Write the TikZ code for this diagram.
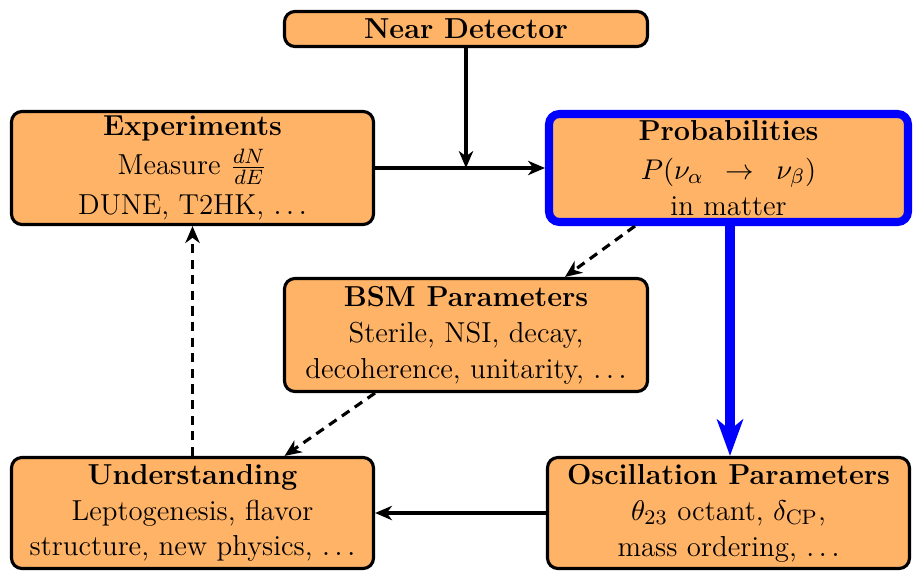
\documentclass[tikz,border=0pt]{standalone}
\usetikzlibrary{arrows.meta,calc}
\definecolor{boxfill}{HTML}{FFB366}
\begin{document}
\begin{tikzpicture}[x=0.3846pt,y=-0.3846pt,
  box/.style={draw=black,line width=1.2pt,fill=boxfill,rounded corners=4pt,align=center,inner sep=0pt,font=\fontsize{11.1}{13.8}\selectfont},
  conn/.style={line width=1.2pt,-{Stealth[length=6.5pt,width=5.5pt,inset=2pt]}},
  dconn/.style={conn,dash pattern=on 3.5pt off 2.5pt}]
\useasboundingbox (0,0) rectangle (915,573);
\node[box,minimum width=363*0.3846pt,minimum height=35*0.3846pt] (N) at (466,29) {\textbf{Near Detector}};
\node[box,minimum width=362*0.3846pt,minimum height=113*0.3846pt] (E) at (192.5,168) {\textbf{Experiments}\\[1pt] Measure $\frac{dN}{dE}$\\[1.5pt] DUNE, T2HK, $\ldots$};
\node[box,draw=blue,line width=3.1pt,minimum width=359*0.3846pt,minimum height=108*0.3846pt] (P) at (728.5,168) {\textbf{Probabilities}\\[1pt] $P(\nu_\alpha\ \,\rightarrow\ \,\nu_\beta)$\\ in matter};
\node[box,minimum width=363*0.3846pt,minimum height=113*0.3846pt] (B) at (466,335) {\textbf{BSM Parameters}\\ Sterile, NSI, decay,\\ decoherence, unitarity, $\ldots$};
\node[box,minimum width=362*0.3846pt,minimum height=111*0.3846pt] (U) at (192.5,513) {\textbf{Understanding}\\ Leptogenesis, flavor\\ structure, new physics, $\ldots$};
\node[box,minimum width=362*0.3846pt,minimum height=111*0.3846pt] (O) at (728.5,513) {\textbf{Oscillation Parameters}\\ $\theta_{23}$ octant, $\delta_{\mathrm{CP}}$,\\ mass ordering, $\ldots$};
\coordinate (J) at (N.south |- E.east);
\draw[conn] (E.east) -- (P.west);
\draw[conn] (N.south) -- (J);
\draw[dconn] ([xshift=-93.5*0.3846pt]P.south) -- ([xshift=99*0.3846pt]B.north);
\draw[line width=3.5pt,blue,-{Stealth[length=14pt,width=10pt,inset=4pt]}] ([xshift=1.5*0.3846pt]P.south) -- ([xshift=1.5*0.3846pt]O.north);
\draw[conn] (O.west) -- (U.east);
\draw[dconn] ([xshift=-91*0.3846pt]B.south) -- ([xshift=92*0.3846pt]U.north);
\draw[dconn] (U.north) -- (E.south);
\end{tikzpicture}
\end{document}
